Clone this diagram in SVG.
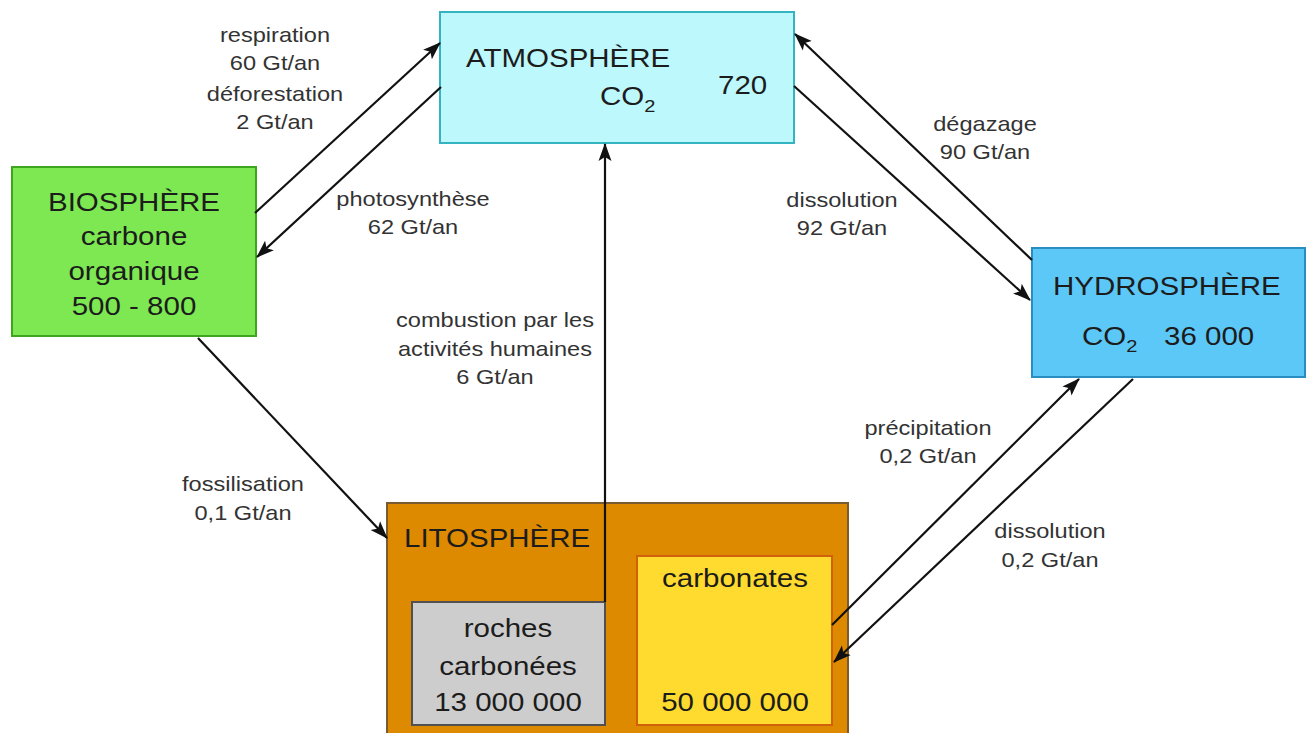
<svg xmlns="http://www.w3.org/2000/svg" width="1307" height="733" viewBox="0 0 1307 733">
<defs>
<style>
text{font-family:"Liberation Sans",Arial,sans-serif;}
.big{font-size:25px;fill:#1c1c1c;}
.sm{font-size:20px;fill:#333;}
.mid{text-anchor:middle;}
.node rect{stroke-width:2;}
.conn line,.conn polyline{stroke:#111;stroke-width:2.2;fill:none;marker-end:url(#ah);}
</style>
<marker id="ah" markerUnits="userSpaceOnUse" markerWidth="20" markerHeight="14" refX="17" refY="7" orient="auto">
<path d="M0,0.5 L18,7 L0,13.5 L4,7 Z" fill="#111"/>
</marker>
</defs>
<rect width="1307" height="733" fill="#fff"/>

<g id="atmosphere" class="node">
<rect x="440" y="12" width="354" height="131" fill="#bdf8fc" stroke="#34b4c0"/>
<text class="big" transform="translate(466,67) scale(1.18,1)">ATMOSPHÈRE</text>
<text class="big" transform="translate(600,105) scale(1.18,1)">CO<tspan font-size="17" dy="7">2</tspan></text>
<text class="big" transform="translate(718,94) scale(1.18,1)">720</text>
</g>

<g id="biosphere" class="node">
<rect x="12" y="167" width="244" height="169" fill="#7de852" stroke="#3ea51e"/>
<text class="big mid" transform="translate(134,211) scale(1.18,1)">BIOSPHÈRE</text>
<text class="big mid" transform="translate(134,245) scale(1.18,1)">carbone</text>
<text class="big mid" transform="translate(134,280) scale(1.18,1)">organique</text>
<text class="big mid" transform="translate(134,315) scale(1.18,1)">500 - 800</text>
</g>

<g id="hydrosphere" class="node">
<rect x="1032" y="248" width="273" height="129" fill="#5cc8f8" stroke="#2a8dc0"/>
<text class="big" transform="translate(1053,295) scale(1.18,1)">HYDROSPHÈRE</text>
<text class="big" transform="translate(1082,345) scale(1.18,1)">CO<tspan font-size="17" dy="7">2</tspan></text>
<text class="big" transform="translate(1164,345) scale(1.18,1)">36 000</text>
</g>

<g id="lithosphere" class="node">
<rect x="387" y="503" width="461" height="240" fill="#de8a00" stroke="#7a5a30"/>
<text class="big" transform="translate(404,547) scale(1.18,1)">LITOSPHÈRE</text>
</g>

<g id="roches" class="node">
<rect x="412" y="602" width="193" height="123" fill="#cdcdcd" stroke="#505050"/>
<text class="big mid" transform="translate(508,637) scale(1.18,1)">roches</text>
<text class="big mid" transform="translate(508,675) scale(1.18,1)">carbonées</text>
<text class="big mid" transform="translate(508,711) scale(1.18,1)">13 000 000</text>
</g>

<g id="carbonates" class="node">
<rect x="637" y="556" width="195" height="169" fill="#fedb2e" stroke="#d0600a"/>
<text class="big mid" transform="translate(735,587) scale(1.18,1)">carbonates</text>
<text class="big mid" transform="translate(735,711) scale(1.18,1)">50 000 000</text>
</g>

<g id="connectors" class="conn">
<line x1="255" y1="213" x2="440" y2="43"/>
<line x1="441" y1="87" x2="257" y2="257"/>
<line x1="1032" y1="260" x2="795" y2="34"/>
<line x1="794" y1="86" x2="1030" y2="300"/>
<line x1="832" y1="625" x2="1079" y2="379"/>
<line x1="1133" y1="379" x2="834" y2="662"/>
<line x1="198" y1="338" x2="387" y2="538"/>
<polyline points="605,602 605,144"/>
</g>

<g id="labels">
<text class="sm mid" transform="translate(275,42) scale(1.18,1)">respiration</text>
<text class="sm mid" transform="translate(275,70) scale(1.18,1)">60 Gt/an</text>
<text class="sm mid" transform="translate(275,101) scale(1.18,1)">déforestation</text>
<text class="sm mid" transform="translate(275,129) scale(1.18,1)">2 Gt/an</text>
<text class="sm mid" transform="translate(413,206) scale(1.18,1)">photosynthèse</text>
<text class="sm mid" transform="translate(413,234) scale(1.18,1)">62 Gt/an</text>
<text class="sm mid" transform="translate(985,131) scale(1.18,1)">dégazage</text>
<text class="sm mid" transform="translate(985,159) scale(1.18,1)">90 Gt/an</text>
<text class="sm mid" transform="translate(842,207) scale(1.18,1)">dissolution</text>
<text class="sm mid" transform="translate(842,235) scale(1.18,1)">92 Gt/an</text>
<text class="sm mid" transform="translate(495,327) scale(1.18,1)">combustion par les</text>
<text class="sm mid" transform="translate(495,356) scale(1.18,1)">activités humaines</text>
<text class="sm mid" transform="translate(495,384) scale(1.18,1)">6 Gt/an</text>
<text class="sm mid" transform="translate(243,491) scale(1.18,1)">fossilisation</text>
<text class="sm mid" transform="translate(243,520) scale(1.18,1)">0,1 Gt/an</text>
<text class="sm mid" transform="translate(928,435) scale(1.18,1)">précipitation</text>
<text class="sm mid" transform="translate(928,463) scale(1.18,1)">0,2 Gt/an</text>
<text class="sm mid" transform="translate(1050,538) scale(1.18,1)">dissolution</text>
<text class="sm mid" transform="translate(1050,567) scale(1.18,1)">0,2 Gt/an</text>
</g>
</svg>
